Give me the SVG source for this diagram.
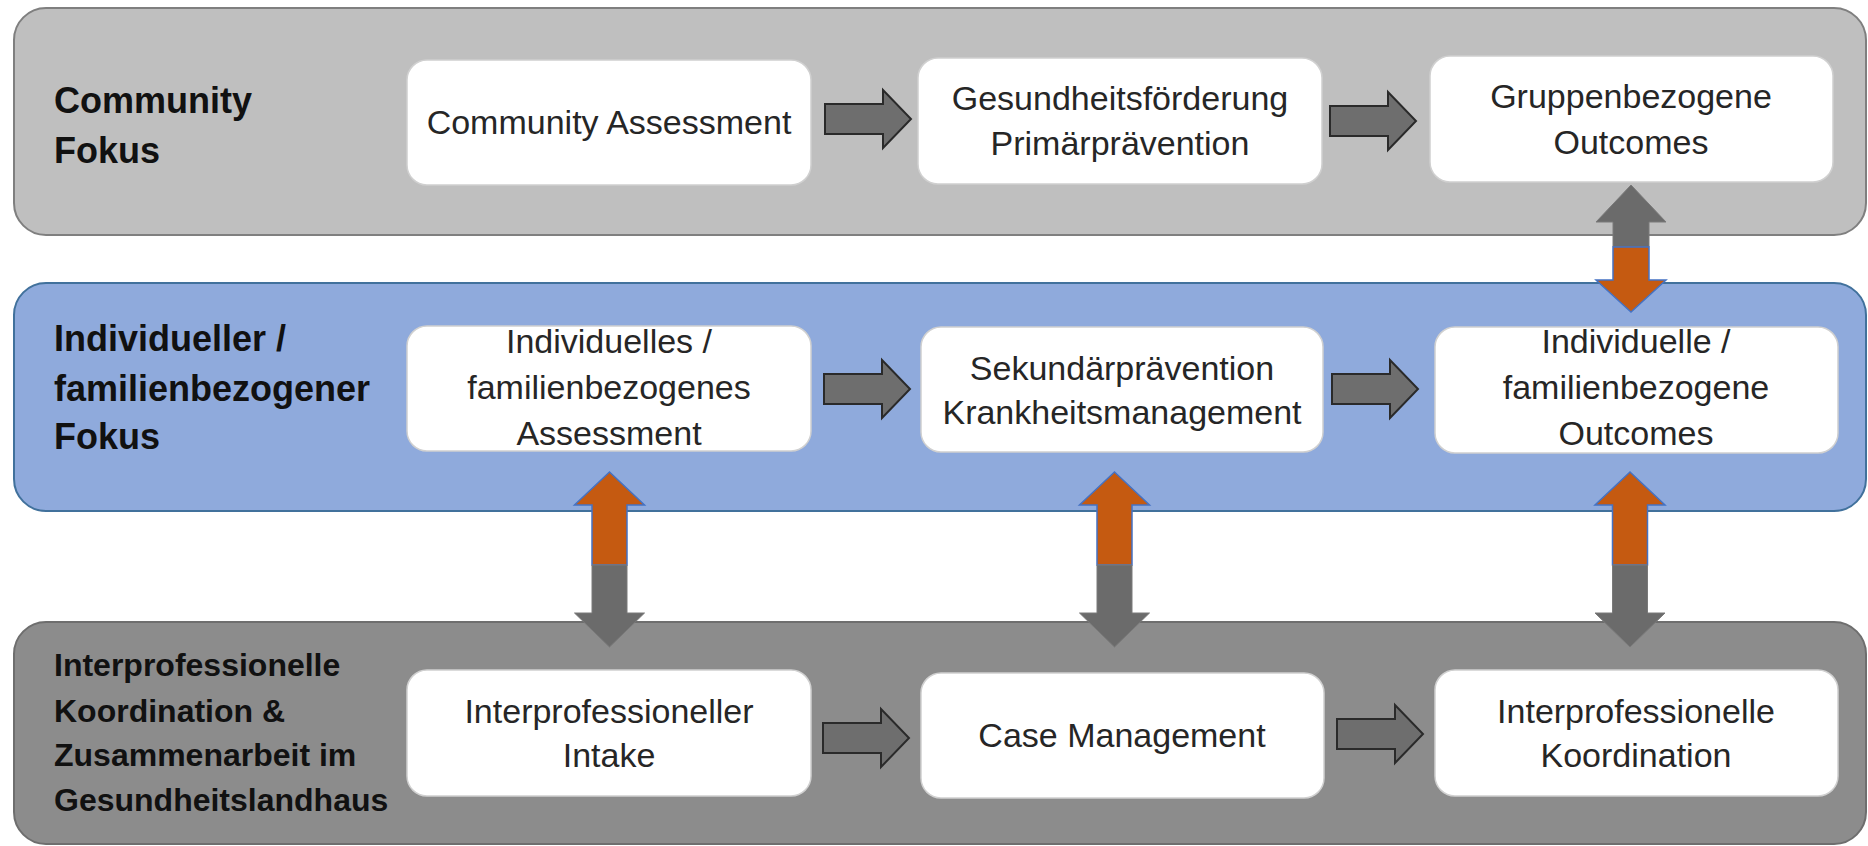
<svg xmlns="http://www.w3.org/2000/svg" xmlns:xlink="http://www.w3.org/1999/xlink" width="1868" height="846" viewBox="0 0 1868 846">
<style>
.band-top{fill:#BFBFBF;stroke:#7F7F7F;stroke-width:2}
.band-mid{fill:#8FAADC;stroke:#41719C;stroke-width:2}
.band-bot{fill:#8C8C8C;stroke:#6E6E6E;stroke-width:2}
.box{fill:#FFFFFF;stroke:#D0D0D0;stroke-width:1.5}
.lbl{font-family:"Liberation Sans",Arial,sans-serif;font-weight:bold;fill:#111111}
.txt{font-family:"Liberation Sans",Arial,sans-serif;font-size:34px;fill:#262626;text-anchor:middle}
.harrow{fill:#6E6E6E;stroke:#2A2A2A;stroke-width:2;stroke-linejoin:miter}
.orange{fill:#C55A11;stroke:#4472C4;stroke-width:1.5}
.gray{fill:#6B6B6B;stroke:#7A7A7A;stroke-width:1}
</style>
<defs>
<path id="ha" d="M0,-15 H58 V-29 L86,0 L58,29 V15 H0 Z"/>
</defs>

<g id="band-community">
<rect class="band-top" x="14" y="8" width="1852" height="227" rx="32"/>
<text class="lbl" font-size="36" x="54" y="113">Community</text>
<text class="lbl" font-size="36" x="54" y="163">Fokus</text>
</g>
<g id="band-individual">
<rect class="band-mid" x="14" y="283" width="1852" height="228" rx="32"/>
<text class="lbl" font-size="36" x="54" y="351">Individueller /</text>
<text class="lbl" font-size="36" x="54" y="401">familienbezogener</text>
<text class="lbl" font-size="36" x="54" y="449">Fokus</text>
</g>
<g id="band-interprof">
<rect class="band-bot" x="14" y="622" width="1852" height="222" rx="32"/>
<text class="lbl" font-size="32" x="54" y="676">Interprofessionelle</text>
<text class="lbl" font-size="32" x="54" y="722">Koordination &amp;</text>
<text class="lbl" font-size="32" x="54" y="766">Zusammenarbeit im</text>
<text class="lbl" font-size="32" x="54" y="811">Gesundheitslandhaus</text>
</g>

<g id="n-community-assessment">
<rect class="box" x="407" y="60" width="404" height="125" rx="20"/>
<text class="txt" x="609" y="134">Community Assessment</text>
</g>
<g id="n-gesundheitsfoerderung">
<rect class="box" x="918" y="58" width="404" height="126" rx="20"/>
<text class="txt" x="1120" y="110">Gesundheitsförderung</text>
<text class="txt" x="1120" y="155">Primärprävention</text>
</g>
<g id="n-gruppen-outcomes">
<rect class="box" x="1430" y="56" width="403" height="126" rx="20"/>
<text class="txt" x="1631" y="108">Gruppenbezogene</text>
<text class="txt" x="1631" y="154">Outcomes</text>
</g>

<g id="n-indiv-assessment">
<rect class="box" x="407" y="326" width="404" height="125" rx="20"/>
<text class="txt" x="609" y="353">Individuelles /</text>
<text class="txt" x="609" y="399">familienbezogenes</text>
<text class="txt" x="609" y="445">Assessment</text>
</g>
<g id="n-sekundaer">
<rect class="box" x="921" y="327" width="402" height="125" rx="20"/>
<text class="txt" x="1122" y="380">Sekundärprävention</text>
<text class="txt" x="1122" y="424">Krankheitsmanagement</text>
</g>
<g id="n-indiv-outcomes">
<rect class="box" x="1435" y="327" width="403" height="126" rx="20"/>
<text class="txt" x="1636" y="353">Individuelle /</text>
<text class="txt" x="1636" y="399">familienbezogene</text>
<text class="txt" x="1636" y="445">Outcomes</text>
</g>

<g id="n-intake">
<rect class="box" x="407" y="670" width="404" height="126" rx="20"/>
<text class="txt" x="609" y="723">Interprofessioneller</text>
<text class="txt" x="609" y="767">Intake</text>
</g>
<g id="n-case-management">
<rect class="box" x="921" y="673" width="403" height="125" rx="20"/>
<text class="txt" x="1122" y="747">Case Management</text>
</g>
<g id="n-koordination">
<rect class="box" x="1435" y="670" width="403" height="126" rx="20"/>
<text class="txt" x="1636" y="723">Interprofessionelle</text>
<text class="txt" x="1636" y="767">Koordination</text>
</g>

<g id="connectors">
<use href="#ha" class="harrow" x="825" y="119"/>
<use href="#ha" class="harrow" x="1330" y="121"/>
<use href="#ha" class="harrow" x="824" y="389"/>
<use href="#ha" class="harrow" x="1332" y="389"/>
<use href="#ha" class="harrow" x="823" y="738"/>
<use href="#ha" class="harrow" x="1337" y="734"/>

<g transform="translate(609.5,0)">
<path class="orange" d="M0,472 L35,505 L17.5,505 L17.5,565 L-17.5,565 L-17.5,505 L-35,505 Z"/>
<path class="gray" d="M-17.5,565 L17.5,565 L17.5,613 L35,613 L0,647 L-35,613 L-17.5,613 Z"/>
</g>
<g transform="translate(1114.5,0)">
<path class="orange" d="M0,472 L35,505 L17.5,505 L17.5,565 L-17.5,565 L-17.5,505 L-35,505 Z"/>
<path class="gray" d="M-17.5,565 L17.5,565 L17.5,613 L35,613 L0,647 L-35,613 L-17.5,613 Z"/>
</g>
<g transform="translate(1630,0)">
<path class="orange" d="M0,472 L35,505 L17.5,505 L17.5,565 L-17.5,565 L-17.5,505 L-35,505 Z"/>
<path class="gray" d="M-17.5,565 L17.5,565 L17.5,613 L35,613 L0,647 L-35,613 L-17.5,613 Z"/>
</g>
<g transform="translate(1631,0)">
<path class="gray" d="M0,185 L35,222 L18,222 L18,247 L-18,247 L-18,222 L-35,222 Z"/>
<path class="orange" d="M-18,247 L18,247 L18,280 L35,280 L0,312 L-35,280 L-18,280 Z"/>
</g>
</g>
</svg>
